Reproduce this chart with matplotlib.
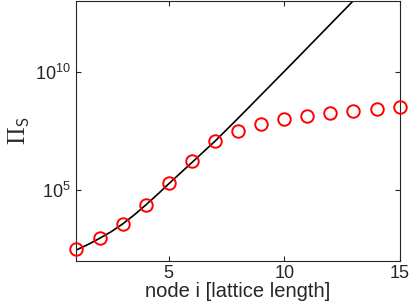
#Program to plot Pi_S versus node index
import numpy as np
import matplotlib
matplotlib.use('Agg')
import matplotlib.pyplot as plt
from matplotlib.ticker import FixedLocator, NullLocator

plt.rcParams['font.family'] = ['Liberation Sans', 'DejaVu Sans']
plt.rcParams['mathtext.fontset'] = 'cm'

#data (log10 values)
node = [1, 2, 3, 4, 5, 6, 7, 8, 9, 10, 11, 12, 13, 14, 15]
log_pi_s = [2.49, 2.94, 3.54, 4.35, 5.28, 6.23, 7.04, 7.49, 7.79, 7.99,
            8.11, 8.23, 8.32, 8.42, 8.49]

#continuum curve
x_curve = [1, 1.5, 2, 2.5, 3, 3.5, 4, 4.5, 5, 5.5, 6, 6.5, 7, 8, 9, 10, 11, 12, 13, 13.2]
log_curve = [2.45, 2.68, 2.94, 3.22, 3.55, 3.93, 4.35, 4.79, 5.25, 5.70, 6.15, 6.60,
             7.05, 8.02, 9.01, 10.0, 11.0, 12.0, 13.0, 13.2]

#setting up plot
fig = plt.figure(figsize=(4.09, 3.08), dpi=100)
ax = fig.add_axes([0.187, 0.154, 0.79, 0.844])

ax.plot(x_curve, 10**np.array(log_curve), color='k', lw=1.2)
ax.plot(node, 10**np.array(log_pi_s), 'o', mfc='none', mec='r', ms=9, mew=1.4,
        clip_on=False, zorder=3)

ax.set_yscale('log')
ax.set_xlim(1, 15)
ax.set_ylim(1e2, 1e13)
ax.xaxis.set_major_locator(FixedLocator([5, 10, 15]))
ax.yaxis.set_major_locator(FixedLocator([1e5, 1e10]))
ax.yaxis.set_minor_locator(NullLocator())

gray = '#262626'
for s in ax.spines.values():
    s.set_color(gray)
    s.set_linewidth(0.8)
ax.tick_params(direction='in', length=3.5, width=0.8, colors=gray,
               labelsize=13, top=True, right=True)
ax.tick_params(axis='y', pad=4)

ax.set_xlabel('node i [lattice length]', fontsize=14.5, color=gray, labelpad=0)
ax.set_ylabel(r'$\Pi_\mathsf{S}$', fontsize=17, color=gray, labelpad=3)

plt.savefig('out.png', dpi=100)
